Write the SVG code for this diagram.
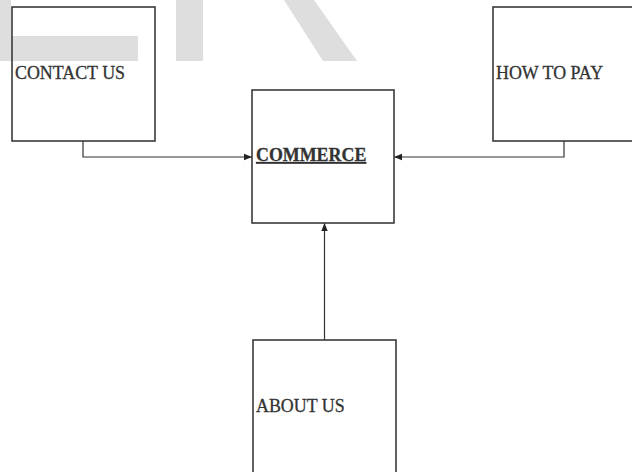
<svg xmlns="http://www.w3.org/2000/svg" width="632" height="472" viewBox="0 0 632 472">
  <style>
    .box { fill: none; stroke: #3a3a3a; stroke-width: 1.6; }
    .label { font-family: "Liberation Serif", "Times New Roman", serif; font-size: 17.9px; fill: #333333; stroke: #333333; stroke-width: 0.3; }
    .title { font-weight: bold; text-decoration: underline; }
    .link { fill: none; stroke: #333333; stroke-width: 1.2; }
    .mark { fill: #dedede; }
  </style>
  <defs>
    <marker id="arrow" viewBox="0 0 8 8" refX="8" refY="4" markerWidth="8" markerHeight="8" markerUnits="userSpaceOnUse" orient="auto">
      <path d="M0,0.8 L8,4 L0,7.2 Z" fill="#222222"/>
    </marker>
  </defs>

  <rect width="632" height="472" fill="#ffffff"/>

  <!-- light grey background marks -->
  <g id="backdrop">
    <rect class="mark" x="0" y="0" width="11" height="61"/>
    <rect class="mark" x="0" y="36" width="138" height="25"/>
    <rect class="mark" x="176" y="0" width="27" height="61"/>
    <polygon class="mark" points="284,0 314,0 357,61 323,61"/>
  </g>

  <g id="connectors">
    <polyline class="link" points="83,141 83,157 252,157" marker-end="url(#arrow)"/>
    <polyline class="link" points="564,141 564,157 394,157" marker-end="url(#arrow)"/>
    <line class="link" x1="324.5" y1="340" x2="324.5" y2="223" marker-end="url(#arrow)"/>
  </g>

  <g id="contact-us">
    <rect class="box" x="12" y="7" width="143" height="134"/>
    <text class="label" x="15" y="79">CONTACT US</text>
  </g>

  <g id="commerce">
    <rect class="box" x="252" y="90" width="142" height="133"/>
    <text class="label title" x="256" y="161">COMMERCE</text>
  </g>

  <g id="how-to-pay">
    <rect class="box" x="493" y="7" width="150" height="134"/>
    <text class="label" x="496" y="79">HOW TO PAY</text>
  </g>

  <g id="about-us">
    <rect class="box" x="253" y="340" width="143" height="150"/>
    <text class="label" x="256" y="412">ABOUT US</text>
  </g>
</svg>
